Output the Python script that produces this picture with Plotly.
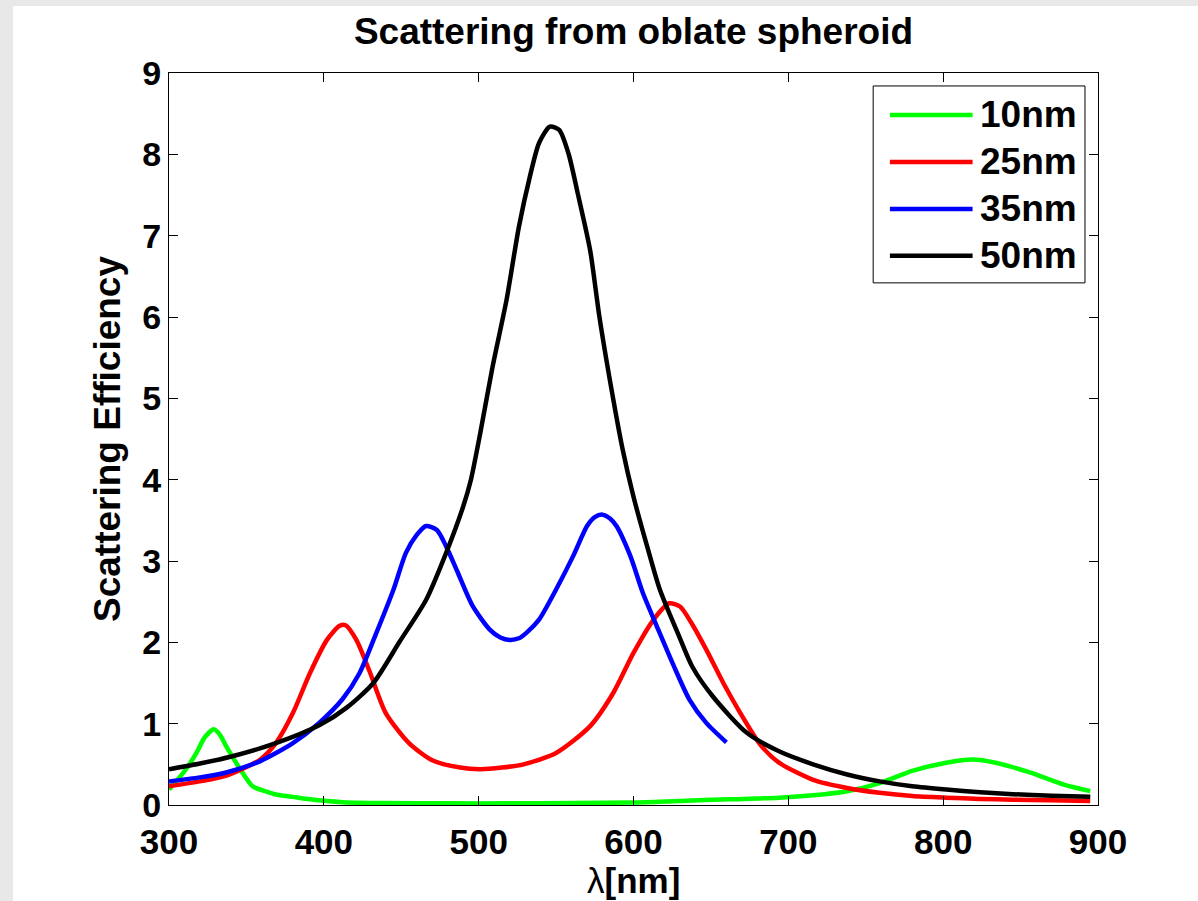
import plotly.graph_objects as go

# ---------------- data ----------------
wl_10 = [300, 311, 318, 323, 329, 333, 337, 346, 354, 362, 369, 380, 391, 412,
         440, 480, 520, 560, 600, 630, 662, 694, 716, 738, 759, 780, 802, 819,
         834, 856, 878, 895]
q_10 = [0.19, 0.44, 0.65, 0.83, 0.93, 0.86, 0.72, 0.44, 0.23, 0.17, 0.13, 0.10,
        0.07, 0.035, 0.025, 0.02, 0.02, 0.025, 0.03, 0.05, 0.07, 0.09, 0.12,
        0.17, 0.27, 0.42, 0.52, 0.56, 0.52, 0.40, 0.25, 0.17]

wl_25 = [300, 320, 337, 359, 369, 380, 391, 402, 410, 414, 421, 430, 440, 455,
         470, 488, 501, 515, 529, 550, 572, 587, 600, 613, 623, 630, 638, 647,
         658, 669, 682, 694, 716, 738, 759, 780, 802, 824, 845, 870, 895]
q_25 = [0.23, 0.29, 0.36, 0.56, 0.76, 1.13, 1.62, 2.03, 2.20, 2.21, 2.03, 1.62,
        1.13, 0.76, 0.55, 0.46, 0.44, 0.46, 0.50, 0.64, 0.97, 1.38, 1.87, 2.28,
        2.48, 2.44, 2.22, 1.91, 1.50, 1.13, 0.74, 0.52, 0.31, 0.21, 0.15, 0.11,
        0.09, 0.075, 0.065, 0.057, 0.05]

wl_35 = [300, 320, 337, 359, 380, 397, 412, 423, 434, 445, 453, 460, 466, 473,
         479, 486, 496, 507, 514, 520, 526, 531, 539, 550, 561, 570, 575, 580,
         585, 589, 598, 606, 615, 626, 636, 647, 660]
q_35 = [0.29, 0.34, 0.40, 0.54, 0.76, 1.01, 1.30, 1.62, 2.12, 2.65, 3.10, 3.32,
        3.43, 3.38, 3.18, 2.88, 2.45, 2.16, 2.06, 2.03, 2.05, 2.12, 2.28, 2.65,
        3.06, 3.43, 3.54, 3.57, 3.52, 3.43, 3.06, 2.61, 2.20, 1.71, 1.30, 1.01,
        0.77]

wl_50 = [300, 320, 341, 369, 397, 415, 432, 449, 466, 479, 490, 495, 501, 509,
         518, 526, 533, 539, 546, 552, 558, 564, 572, 578, 587, 593, 600, 610,
         617, 630, 638, 651, 673, 694, 716, 738, 759, 780, 802, 824, 845, 870, 895]
q_50 = [0.44, 0.51, 0.60, 0.76, 0.98, 1.20, 1.50, 2.01, 2.52, 3.10, 3.67, 4.0,
        4.57, 5.39, 6.21, 7.11, 7.72, 8.14, 8.34, 8.30, 8.01, 7.52, 6.82, 6.0,
        4.98, 4.37, 3.79, 3.10, 2.65, 2.05, 1.70, 1.34, 0.89, 0.66, 0.50, 0.375,
        0.29, 0.23, 0.19, 0.157, 0.133, 0.115, 0.10]

series_names = ["10nm", "25nm", "35nm", "50nm"]
series_colors = ["#00ff00", "#ff0000", "#0000ff", "#000000"]
series_x = [wl_10, wl_25, wl_35, wl_50]
series_y = [q_10, q_25, q_35, q_50]

x_ticks = [300, 400, 500, 600, 700, 800, 900]
y_ticks = [0, 1, 2, 3, 4, 5, 6, 7, 8, 9]

FONT = "Liberation Sans, Arial, Helvetica, sans-serif"

fig = go.Figure()
for name, col, xs, ys in zip(series_names, series_colors, series_x, series_y):
    fig.add_trace(go.Scatter(x=xs, y=ys, mode="lines", name=name,
                             line=dict(color=col, width=4.5, shape="spline",
                                       smoothing=0.7),
                             showlegend=False))

# ---- MATLAB-style legend box (drawn in paper coordinates) ----
shapes = [
    # grey window edges
    dict(type="rect", xref="paper", yref="paper", x0=-0.2, x1=-0.168,
         y0=-0.2, y1=1.2, fillcolor="#e8e8e8", line=dict(width=0), layer="below"),
    dict(type="rect", xref="paper", yref="paper", x0=-0.2, x1=1.2,
         y0=1.0915, y1=1.2, fillcolor="#e8e8e8", line=dict(width=0), layer="below"),
    # legend frame
    dict(type="rect", xref="paper", yref="paper", x0=0.758, x1=0.986,
         y0=0.7133, y1=0.9823, fillcolor="white",
         line=dict(color="black", width=1), layer="above"),
]
annotations = []
leg_y = [0.9427, 0.8785, 0.8143, 0.7502]
for name, col, yy in zip(series_names, series_colors, leg_y):
    shapes.append(dict(type="line", xref="paper", yref="paper", x0=0.776,
                       x1=0.865, y0=yy, y1=yy,
                       line=dict(color=col, width=4.5), layer="above"))
    annotations.append(dict(xref="paper", yref="paper", x=0.871, y=yy,
                            xanchor="left", yanchor="middle", showarrow=False,
                            text="<b>%s</b>" % name,
                            font=dict(family=FONT, size=37, color="black")))

# x-axis title placed as a text annotation under the tick labels
annotations.append(dict(xref="paper", yref="paper", x=0.5, y=-0.1038,
                        xanchor="center", yanchor="middle", showarrow=False,
                        text="λ<b>[nm]</b>",
                        font=dict(family=FONT, size=35, color="black")))

fig.update_layout(
    width=1198, height=901,
    margin=dict(l=169, r=100, t=73, b=96),
    paper_bgcolor="white", plot_bgcolor="white",
    title=dict(text="<b>Scattering from oblate spheroid</b>",
               x=0.5, xref="paper", xanchor="center",
               y=1 - 31 / 901, yanchor="middle",
               font=dict(family=FONT, size=37, color="black")),
    shapes=shapes,
    annotations=annotations,
    showlegend=False,
)
fig.update_xaxes(range=[300, 900], tickvals=x_ticks,
                 ticktext=["<b>%d</b>" % v for v in x_ticks],
                 ticks="inside", ticklen=9, tickwidth=1, tickcolor="black",
                 ticklabelstandoff=6,
                 showline=True, linecolor="black", linewidth=1, mirror="ticks",
                 showgrid=False, zeroline=False,
                 tickfont=dict(family=FONT, size=35, color="black"))
fig.update_yaxes(range=[0, 9], tickvals=y_ticks,
                 ticktext=["<b>%d</b>" % v for v in y_ticks],
                 ticks="inside", ticklen=9, tickwidth=1, tickcolor="black",
                 showline=True, linecolor="black", linewidth=1, mirror="ticks",
                 showgrid=False, zeroline=False,
                 tickfont=dict(family=FONT, size=34, color="black"),
                 title=dict(text="<b>Scattering Efficiency</b>",
                            font=dict(family=FONT, size=37, color="black"),
                            standoff=10))

fig.write_html("out.html",
               config={"displayModeBar": False},
               post_script="document.body.style.margin='0';document.body.style.overflow='hidden';")
